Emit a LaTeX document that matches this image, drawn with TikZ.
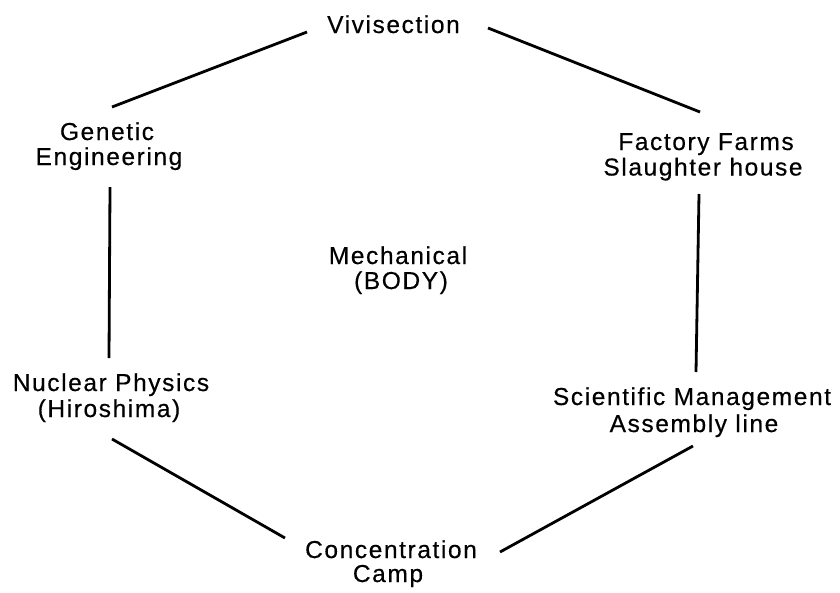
\documentclass[tikz,border=0pt]{standalone}
\usepackage{fontspec}
\setmainfont{Liberation Sans}[LetterSpace=6.5,FakeBold=0.4]
\begin{document}
\begin{tikzpicture}[x=1pt,y=-1pt,
  lbl/.style={anchor=base,inner sep=0pt,font=\fontsize{24.5}{26}\selectfont},
  edge/.style={line width=2.8pt,black}]
\useasboundingbox (0,0) rectangle (840,592);
\fill[white] (0,0) rectangle (840,592);
% labels
\node[lbl] (viv)   at (393.5,33) {Vivisection};
\node[lbl] (gen1)  at (107,140) {Genetic};
\node[lbl] (gen2)  at (109,165) {Engineering};
\node[lbl] (fac1)  at (706,150) {Factory Farms};
\node[lbl] (fac2)  at (703,175.5) {Slaughter house};
\node[lbl] (mech1) at (398,264) {Mechanical};
\node[lbl] (mech2) at (401,289) {(BODY)};
\node[lbl] (nuc1)  at (111,391) {Nuclear Physics};
\node[lbl] (nuc2)  at (109,417) {(Hiroshima)};
\node[lbl] (sci1)  at (692,405) {Scientific Management};
\node[lbl] (sci2)  at (694,432) {Assembly line};
\node[lbl] (con1)  at (391,558) {Concentration};
\node[lbl] (con2)  at (388,582) {Camp};
% connector ends
\coordinate (vivL) at (307,32);   \coordinate (genT) at (112,107);
\coordinate (vivR) at (488,28);   \coordinate (facT) at (700,112);
\coordinate (genB) at (110,187);  \coordinate (nucT) at (109,358);
\coordinate (facB) at (699,194);  \coordinate (sciT) at (696,372);
\coordinate (nucB) at (112,439);  \coordinate (conL) at (285,538);
\coordinate (sciB) at (693,446);  \coordinate (conR) at (500,552);
% connectors
\draw[edge] (vivL) -- (genT);
\draw[edge] (vivR) -- (facT);
\draw[edge] (genB) -- (nucT);
\draw[edge] (facB) -- (sciT);
\draw[edge] (nucB) -- (conL);
\draw[edge] (sciB) -- (conR);
\end{tikzpicture}
\end{document}
